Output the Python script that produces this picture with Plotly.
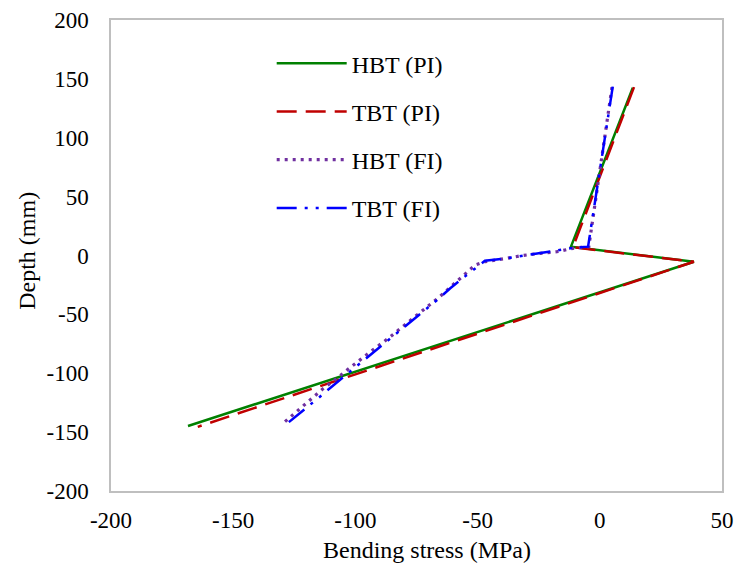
import plotly.graph_objects as go

# Bending stress (MPa) versus depth (mm) through the section
hbt_pi_stress = [13.5, -11.8, 38.5, -168.5]
hbt_pi_depth = [142.5, 7.5, -5.3, -144.8]

tbt_pi_stress = [14.0, -11.0, 38.5, -164.5]
tbt_pi_depth = [143.0, 7.0, -5.3, -145.5]

hbt_fi_stress = [5.0, -4.5, -11.0, -17.6, -24.5, -31.3, -38.1, -47.0, -51.0, -55.6,
                 -60.6, -65.8, -70.9, -76.0, -81.5, -86.5, -92.0, -97.4, -102.9,
                 -107.9, -113.4, -128.8]
hbt_fi_depth = [143.0, 7.5, 6.1, 3.2, 1.8, 0.1, -2.4, -5.3, -8.1, -16.6,
                -25.9, -35.5, -44.0, -52.8, -61.8, -70.3, -78.8, -87.3, -96.4,
                -104.9, -113.4, -141.1]

tbt_fi_stress = [5.3, -4.8, -11.0, -24.5, -38.0, -47.0, -50.5, -55.0, -61.3, -66.7,
                 -74.0, -82.4, -90.5, -98.8, -109.7, -114.5, -129.5]
tbt_fi_depth = [143.4, 7.5, 6.5, 1.8, -2.4, -4.5, -10.5, -17.5, -28.0, -38.0,
                -50.5, -64.7, -79.0, -93.0, -111.4, -119.9, -145.4]

x_ticks = [-200, -150, -100, -50, 0, 50]
x_tick_text = ["-200", "-150", "-100", "-50", "0", "50"]
y_ticks = [-200, -150, -100, -50, 0, 50, 100, 150, 200]
y_tick_text = ["-200", "-150", "-100", "-50", "0", "50", "100", "150", "200"]

FONT = "Liberation Serif, Times New Roman, serif"

fig = go.Figure()
fig.add_trace(go.Scatter(x=hbt_pi_stress, y=hbt_pi_depth, mode="lines", name="HBT (PI)",
                         legendgroup="a",
                         line=dict(color="#008000", width=2.5)))
fig.add_trace(go.Scatter(x=tbt_pi_stress, y=tbt_pi_depth, mode="lines", name="TBT (PI)",
                         legendgroup="b",
                         line=dict(color="#C00000", width=2.5, dash="20px,9px")))
fig.add_trace(go.Scatter(x=hbt_fi_stress, y=hbt_fi_depth, mode="lines", name="HBT (FI)",
                         legendgroup="c",
                         line=dict(color="#7030A0", width=3.2, dash="3px,5px")))
fig.add_trace(go.Scatter(x=tbt_fi_stress, y=tbt_fi_depth, mode="lines", name="TBT (FI)",
                         legendgroup="d",
                         line=dict(color="#0000FF", width=2.5,
                                   dash="20px,8px,3px,8px,3px,8px")))

axis_common = dict(showgrid=False, zeroline=False, showline=True, mirror=True,
                   linecolor="#BFBFBF", linewidth=1.5, ticks="",
                   tickfont=dict(family=FONT, size=23, color="black"))

fig.update_layout(
    width=737, height=567,
    margin=dict(l=111, r=15, t=20, b=76, autoexpand=False),
    paper_bgcolor="white", plot_bgcolor="white",
    font=dict(family=FONT, color="black"),
    xaxis=dict(range=[-200, 50], tickvals=x_ticks, ticktext=x_tick_text,
               ticklabelstandoff=8, **axis_common),
    yaxis=dict(range=[-200, 200], tickvals=y_ticks, ticktext=y_tick_text,
               ticklabelstandoff=16, **axis_common),
    showlegend=True,
    legend=dict(x=0.263, y=0.955, xanchor="left", yanchor="top",
                bgcolor="rgba(0,0,0,0)", borderwidth=0,
                font=dict(family=FONT, size=24, color="black"),
                itemwidth=70, tracegroupgap=14),
    annotations=[
        dict(text="Bending stress (MPa)", xref="paper", yref="paper",
             x=(427 - 111) / 611, y=-0.125, xanchor="center", yanchor="middle",
             showarrow=False, font=dict(family=FONT, size=24, color="black")),
        dict(text="Depth (mm)", xref="paper", yref="paper",
             x=-0.1375, y=0.51, xanchor="center", yanchor="middle", textangle=-90,
             showarrow=False, font=dict(family=FONT, size=24, color="black")),
    ],
)

fig.write_html("out.html")
